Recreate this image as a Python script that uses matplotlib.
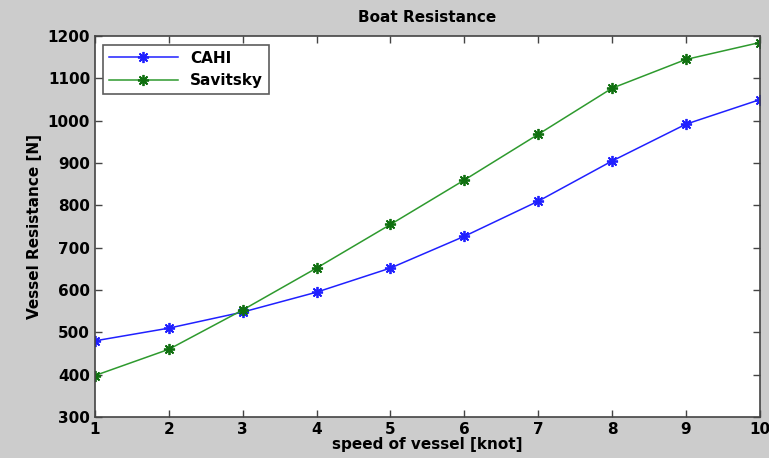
import matplotlib.pyplot as plt
import numpy as np

speed = [1, 2, 3, 4, 5, 6, 7, 8, 9, 10]
cahi = [480, 510, 548, 595, 652, 727, 810, 905, 992, 1050]
savitsky = [398, 460, 553, 652, 755, 860, 968, 1077, 1145, 1185]

fig = plt.figure(figsize=(7.69, 4.58), dpi=100, facecolor='#cccccc')
ax = fig.add_axes([0.1235, 0.0895, 0.8645, 0.8315])

star = (8, 2, 0)
ax.plot(speed, cahi, color='#2020ff', marker=star, ms=8, mew=1.3, lw=1.1, label='CAHI')
ax.plot(speed, savitsky, color='#2e9a2e', marker=star, ms=8, mew=1.3, lw=1.1,
        mec='#107010', label='Savitsky')

ax.set_xlim(1, 10)
ax.set_ylim(300, 1200)
ax.set_xticks(speed)
ax.set_yticks(np.arange(300, 1201, 100))
ax.tick_params(direction='in', top=True, right=True, length=5, width=1,
               color='#444444', labelsize=11)
for lab in ax.get_xticklabels() + ax.get_yticklabels():
    lab.set_fontweight('bold')
for s in ax.spines.values():
    s.set_color('#444444')
    s.set_linewidth(1.2)

ax.set_title('Boat Resistance', fontweight='bold', fontsize=11, pad=10)
ax.set_xlabel('speed of vessel [knot]', fontweight='bold', fontsize=11, labelpad=0)
ax.set_ylabel('Vessel Resistance [N]', fontweight='bold', fontsize=11, labelpad=4)

leg = ax.legend(loc='upper left', bbox_to_anchor=(0.005, 0.99), fancybox=False,
                edgecolor='#333333', prop={'weight': 'bold', 'size': 11},
                handlelength=4.5, borderaxespad=0.3)
leg.get_frame().set_linewidth(1.2)

fig.savefig('out.png', dpi=100, facecolor=fig.get_facecolor())
